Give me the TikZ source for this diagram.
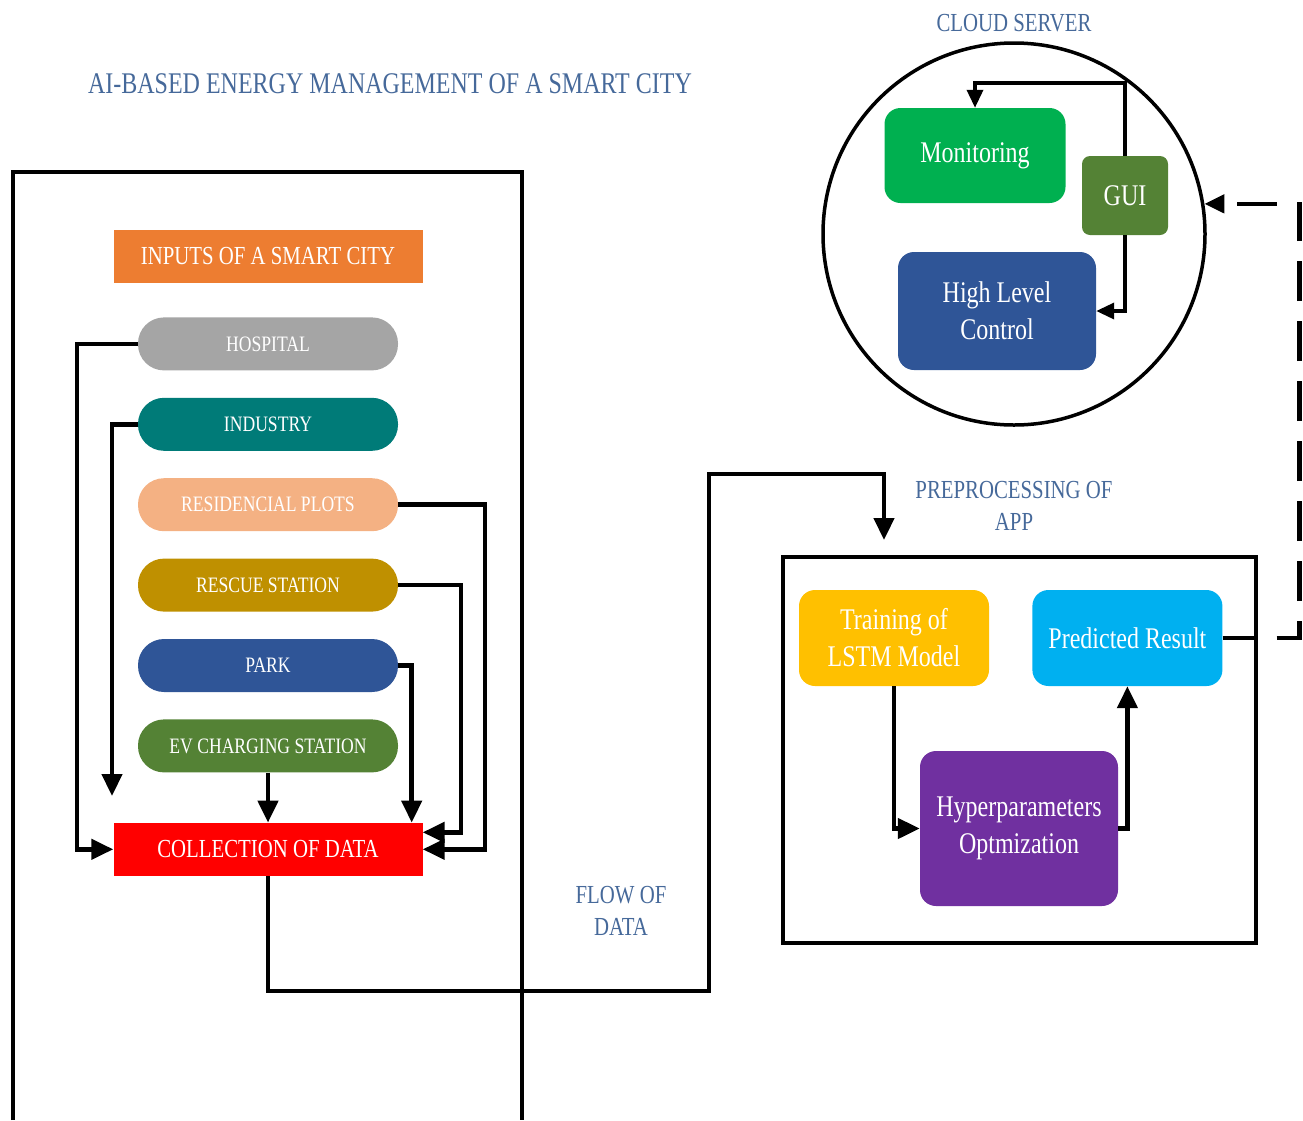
\documentclass[tikz,border=0pt]{standalone}
\usepackage{fontspec}
\setmainfont{Liberation Serif}[FakeStretch=0.8]
\usepackage{xcolor}
\usepackage{tikz}
\usetikzlibrary{shapes.geometric, arrows.meta, positioning, calc}

\definecolor{capblue}{HTML}{46699A}
\definecolor{inorange}{HTML}{ED7D31}
\definecolor{hospgray}{HTML}{A5A5A5}
\definecolor{indteal}{HTML}{007B78}
\definecolor{respeach}{HTML}{F4B183}
\definecolor{rescgold}{HTML}{BF9000}
\definecolor{parkblue}{HTML}{2F5597}
\definecolor{evgreen}{HTML}{548235}
\definecolor{collred}{HTML}{FF0000}
\definecolor{mongreen}{HTML}{00B050}
\definecolor{lstmyellow}{HTML}{FFC000}
\definecolor{predcyan}{HTML}{00B0F0}
\definecolor{hyperpurple}{HTML}{7030A0}

\tikzset{
    caption/.style={
        text=capblue,
        align=center,
        font=\fontsize{26}{32}\selectfont
    },
    headbox/.style={
        rectangle,
        fill=inorange,
        text=white,
        minimum width=309pt,
        minimum height=53pt,
        font=\fontsize{26}{32}\selectfont
    },
    source/.style={
        rectangle,
        rounded corners=26pt,
        text=white,
        minimum width=260pt,
        minimum height=53pt,
        font=\fontsize{22}{26}\selectfont
    },
    card/.style={
        rectangle,
        rounded corners=16pt,
        text=white,
        align=center,
        font=\fontsize{30}{37}\selectfont
    },
    boxline/.style={
        draw=black,
        line width=4.5pt
    },
    wire/.style={
        draw=black,
        line width=4.5pt,
        -{Triangle[length=22pt,width=20pt]}
    },
    thinwire/.style={
        draw=black,
        line width=3.5pt,
        -{Triangle[length=18pt,width=16pt]}
    },
    dashwire/.style={
        draw=black,
        line width=4.5pt,
        dash pattern=on 40pt off 20pt,
        dash phase=6pt,
        -{Triangle[length=20pt,width=18pt]}
    }
}

\begin{document}
\begin{tikzpicture}[x=1pt, y=-1pt, node distance=27pt]
\useasboundingbox (0,0) rectangle (1303,1120);

\node[caption, font=\fontsize{30}{36}\selectfont] (title) at (390,84) {AI-BASED ENERGY MANAGEMENT OF A SMART CITY};

% Smart city inputs
\draw[boxline] (13,1120) -- (13,172) -- (522,172) -- (522,1120);

\node[headbox] (inputs) at (268,256.5) {INPUTS OF A SMART CITY};
\node[source, fill=hospgray, below=34pt of inputs] (hosp) {HOSPITAL};
\node[source, fill=indteal, below=of hosp] (ind) {INDUSTRY};
\node[source, fill=respeach, below=of ind] (res) {RESIDENCIAL PLOTS};
\node[source, fill=rescgold, below=of res] (resc) {RESCUE STATION};
\node[source, fill=parkblue, below=of resc] (park) {PARK};
\node[source, fill=evgreen, below=of park] (ev) {EV CHARGING STATION};
\node[headbox, fill=collred, below=50pt of ev] (coll) {COLLECTION OF DATA};

\coordinate (indend) at (112,796);

\draw[wire] (hosp.west) -- ++(-61,0) |- (coll.west);
\draw[wire] (ind.west) -| (indend);
\draw[wire] (res.east) -- ++(87,0) |- (coll.east);
\draw[wire] (resc.east) -- ++(63,0) |- ([yshift=17pt]coll.east);
\draw[wire] (park.east) -| ([xshift=-11pt]coll.north east);
\draw[wire] (ev) -- (coll);

% Cloud server
\node[caption] (cloudlbl) at (1014,23) {CLOUD SERVER};
\node[circle, draw, line width=3.5pt, minimum size=382pt, inner sep=0pt] (cloud) at (1014,234) {};

\node[card, fill=mongreen, minimum width=181pt, minimum height=95pt] (mon) at (975,155.5) {Monitoring};
\node[card, fill=evgreen, rounded corners=8pt, minimum width=86pt, minimum height=79pt] (gui) at (1125,195.5) {GUI};
\node[card, fill=parkblue, minimum width=198pt, minimum height=118pt] (hlc) at (997,311) {High Level\\Control};

\coordinate (guitop) at (1125,83);
\draw[thinwire] (gui.north) -- (guitop) -| (mon.north);
\draw[thinwire] (gui.south) |- (hlc.east);

% Preprocessing of app
\node[caption] (preplbl) at (1014,506) {PREPROCESSING OF\\APP};
\node[draw, line width=4.5pt, minimum width=473pt, minimum height=386pt] (prep) at (1019.5,750) {};

\node[card, fill=lstmyellow, minimum width=190pt, minimum height=96pt] (train) at (894,638) {Training of\\LSTM Model};
\node[card, fill=predcyan, minimum width=190pt, minimum height=96pt, right=43pt of train] (pred) {Predicted Result};
\node[card, fill=hyperpurple, minimum width=198pt, minimum height=155pt] (hyper) at (1019,828.5) {Hyperparameters\\Optmization};

\draw[wire] (train.south) |- (hyper.west);
\draw[wire] (hyper.east) -| (pred.south);
\draw[dashwire] (pred.east) -- ++(77,0) |- (cloud.9.3);

% Flow of data
\node[caption] (flowlbl) at (621,911) {FLOW OF\\DATA};

\coordinate (turnlow) at (709,991);
\coordinate (turnhigh) at (884,474);
\coordinate (prepin) at (884,540);
\draw[wire] (coll.south) |- (turnlow) |- (turnhigh) -- (prepin);

\end{tikzpicture}
\end{document}
